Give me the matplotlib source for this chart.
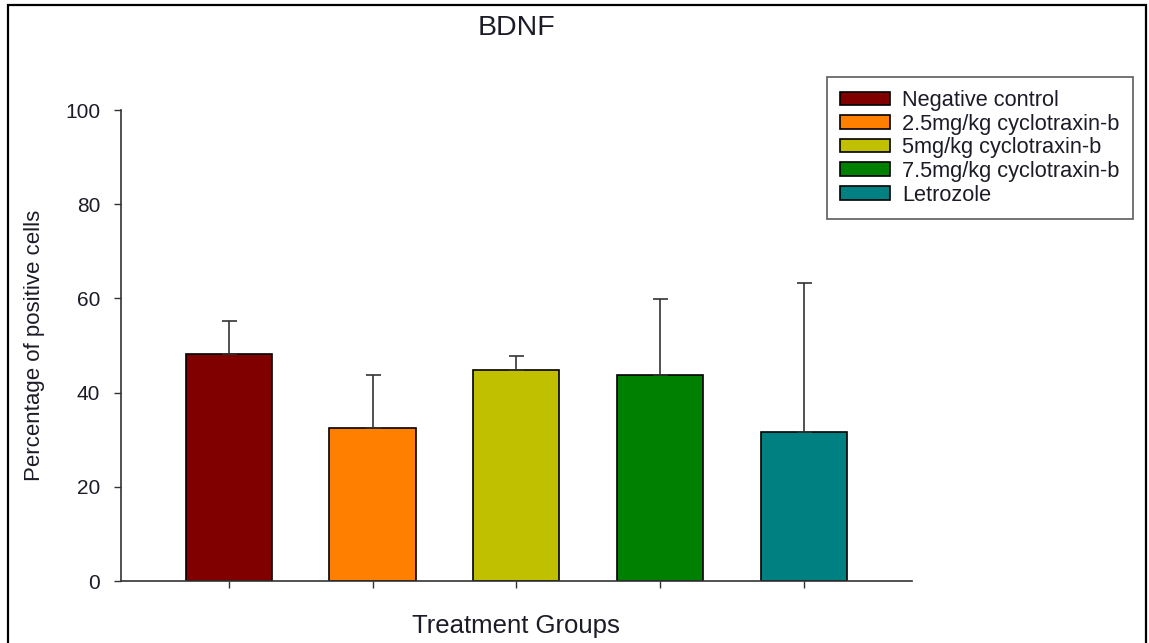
import matplotlib
matplotlib.use("Agg")
import matplotlib.pyplot as plt
from matplotlib.patches import Rectangle, Patch
import numpy as np

plt.rcParams['font.family'] = ['Liberation Sans', 'DejaVu Sans']

groups = ["Negative control", "2.5mg/kg cyclotraxin-b", "5mg/kg cyclotraxin-b",
          "7.5mg/kg cyclotraxin-b", "Letrozole"]
means = [48.2, 32.5, 44.7, 43.7, 31.6]
errors = [7.1, 11.3, 3.1, 16.2, 31.7]
colors = ["#800000", "#FF8000", "#C0C000", "#008000", "#008080"]
yticks = [0, 20, 40, 60, 80, 100]

text_color = "#1c1c28"
line_color = "#333333"

fig = plt.figure(figsize=(11.49, 6.43), dpi=100)
ax = fig.add_axes([0.1053, 0.0964, 0.688, 0.7325])

x = np.arange(len(groups))
ax.bar(x, means, width=0.6, color=colors, edgecolor="black", linewidth=1.2, zorder=2)
ax.errorbar(x, means, yerr=[np.zeros(len(means)), errors], fmt="none",
            ecolor=line_color, elinewidth=1.2, capsize=5.4, capthick=1.2, zorder=3)

ax.set_xlim(-0.75, 4.75)
ax.set_ylim(0, 100)
ax.set_yticks(yticks)
ax.set_xticks(x)
ax.set_xticklabels([])

for side in ("top", "right"):
    ax.spines[side].set_visible(False)
for side in ("left", "bottom"):
    ax.spines[side].set_color(line_color)
    ax.spines[side].set_linewidth(1.2)

ax.tick_params(axis="y", direction="out", length=5, width=1, color=line_color,
               labelsize=15, labelcolor=text_color, pad=10)
ax.tick_params(axis="x", direction="out", length=5, width=1, color=line_color)

ax.set_ylabel("Percentage of positive cells", fontsize=16, color=text_color)
ax.yaxis.set_label_coords(-0.096, 0.5)
ax.set_xlabel("Treatment Groups", fontsize=18.5, color=text_color, labelpad=15)
ax.set_title("BDNF", fontsize=20.5, color=text_color, pad=54)

handles = [Patch(facecolor=c, edgecolor="black", linewidth=1.2) for c in colors]
leg = fig.legend(handles, groups, loc="upper left",
                 bbox_to_anchor=(827 / 1149, 1 - 77 / 643),
                 bbox_transform=fig.transFigure, borderaxespad=0,
                 fontsize=15.7, frameon=True, fancybox=False, shadow=False,
                 handlelength=2.3, handleheight=0.58, handletextpad=0.55,
                 labelspacing=0.12, borderpad=0.6)
leg.get_frame().set_edgecolor(line_color)
leg.get_frame().set_linewidth(1.2)
for t in leg.get_texts():
    t.set_color(text_color)

# Outer frame around the whole figure
fig.patches.append(Rectangle((8 / 1149, -0.02), (1146 - 8) / 1149, 1.02 - 5 / 643,
                             transform=fig.transFigure, fill=False,
                             edgecolor="black", linewidth=1.6))

fig.savefig("out.png", dpi=100)
